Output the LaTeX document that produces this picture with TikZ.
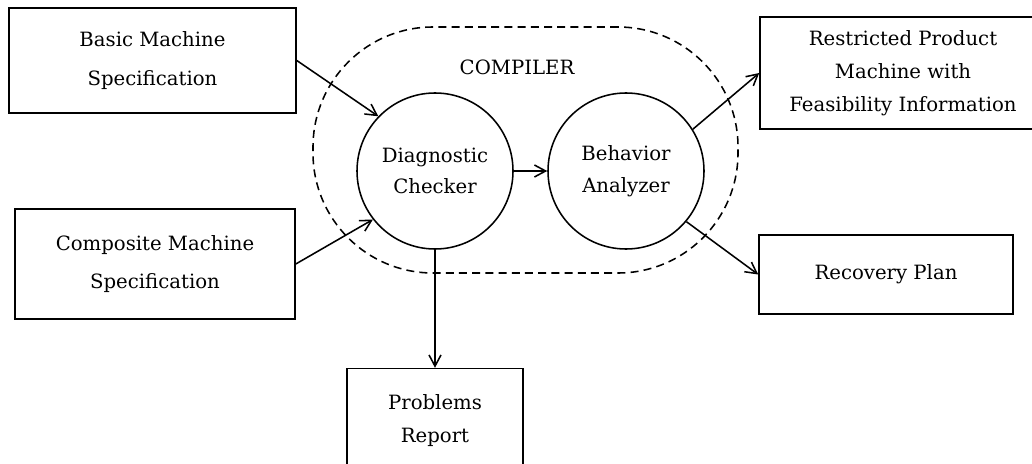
\documentclass[tikz,border=0pt]{standalone}
\usepackage{fontspec}
\setmainfont{DejaVu Serif}
\usetikzlibrary{arrows.meta, positioning, calc}
\tikzset{
  specbox/.style={
    rectangle, draw, line width=1.1pt,
    align=center, inner sep=2pt,
    font=\fontsize{14}{27.5}\selectfont
  },
  procnode/.style={
    circle, draw, line width=1.1pt,
    minimum size=39mm, align=center, inner sep=0pt,
    font=\fontsize{14}{22.5}\selectfont
  },
  zonebox/.style={
    rectangle, draw, line width=1.1pt,
    dash pattern=on 2mm off 1.3mm, rounded corners=30mm
  },
  flowarrow/.style={-{Straight Barb[length=2.8mm,width=3mm]}, line width=1.1pt},
}
\begin{document}
\begin{tikzpicture}[x=0.25mm, y=-0.25mm]
  \useasboundingbox (0,0) rectangle (1032,464);
  \clip (0,0) rectangle (1032,464);
  % compiler region
  \node[zonebox, minimum width=106.25mm, minimum height=61.5mm] (zone) at (525.5,150) {};
  \node[font=\fontsize{14}{16}\selectfont] (zonelbl) at (517,67) {COMPILER};
  % processing stages
  \node[procnode] (diag) at (435,171) {Diagnostic\\Checker};
  \node[procnode] (behav) at (626,171) {Behavior\\Analyzer};
  % inputs
  \node[specbox, minimum width=71.75mm, minimum height=26.25mm] (basic) at (152.5,60.5)
       {Basic Machine\\Specification};
  \node[specbox, minimum width=70mm, minimum height=27.5mm] (comp) at (155,264)
       {Composite Machine\\Specification};
  % outputs
  \node[specbox, minimum width=71.5mm, minimum height=28mm,
        font=\fontsize{14}{23.4}\selectfont] (restr) at (903,73)
       {Restricted Product\\Machine with\\Feasibility Information};
  \node[specbox, minimum width=63.5mm, minimum height=19.75mm] (recov) at (886,274.5)
       {Recovery Plan};
  \node[specbox, minimum width=44mm, minimum height=26mm,
        font=\fontsize{14}{24}\selectfont, below=29.5mm of diag] (probs)
       {Problems\\Report};
  % connectors
  \draw[flowarrow] (basic.east) -- (diag.136);
  \draw[flowarrow] (comp.east) -- (diag.218);
  \draw[flowarrow] (diag) -- (behav);
  \draw[flowarrow] (behav.32) -- (restr.west);
  \draw[flowarrow] (behav.-40) -- (recov.west);
  \draw[flowarrow] (diag.south) -- (probs.north);
\end{tikzpicture}
\end{document}
